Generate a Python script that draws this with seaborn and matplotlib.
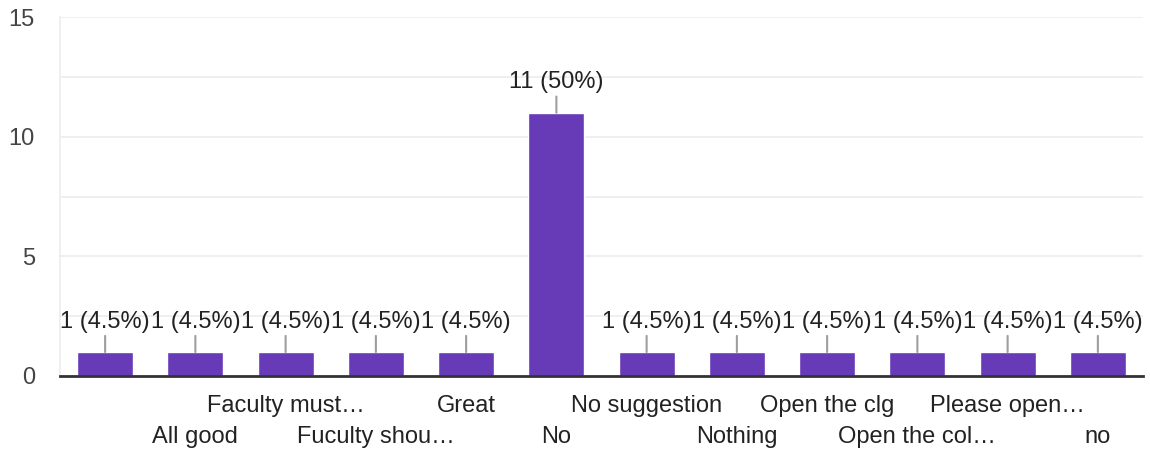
import matplotlib
matplotlib.use("Agg")
import matplotlib.pyplot as plt
import matplotlib.transforms as mtransforms
import seaborn as sns
import pandas as pd

categories = ["", "All good", "Faculty must…", "Fuculty shou…", "Great", "No",
              "No suggestion", "Nothing", "Open the clg", "Open the col…",
              "Please open…", "no"]
counts = [1, 1, 1, 1, 1, 11, 1, 1, 1, 1, 1, 1]
y_ticks = [0, 5, 10, 15]

sns.set_theme(style="white")
plt.rcParams['font.family'] = ['Liberation Sans', 'DejaVu Sans']

W, H, DPI = 11.5, 4.53, 100
FS = 17
fig = plt.figure(figsize=(W, H), dpi=DPI)
ax = fig.add_axes([60 / 1150, 1 - 376 / 453, (1143 - 60) / 1150, (376 - 17) / 453])

df = pd.DataFrame({"cat": [str(i) for i in range(len(categories))], "n": counts})
sns.barplot(data=df, x="cat", y="n", color="#673AB7", saturation=1, width=0.62,
            ax=ax, zorder=3)

ax.set_ylim(0, 15)
ax.set_xlim(-0.5, len(categories) - 0.5)
ax.set_yticks(y_ticks)
ax.set_yticks([2.5, 7.5, 12.5], minor=True)
ax.grid(axis="y", which="both", color="#ececec", linewidth=1.2, zorder=0)
ax.set_xlabel("")
ax.set_ylabel("")

for s in ["top", "right"]:
    ax.spines[s].set_visible(False)
ax.spines["left"].set_color("#ececec")
ax.spines["left"].set_linewidth(1.2)
ax.spines["bottom"].set_color("#333333")
ax.spines["bottom"].set_linewidth(2)
ax.spines["bottom"].set_zorder(4)

ax.tick_params(axis="y", which="both", length=0, pad=18, labelsize=FS, labelcolor="#444444")
ax.tick_params(axis="x", length=0, pad=13.5, labelsize=FS, labelcolor="#222222")
ax.set_xticks(range(len(categories)))
ax.set_xticklabels(categories)

offset = mtransforms.ScaledTranslation(0, -31 / DPI, fig.dpi_scale_trans)
for i, lab in enumerate(ax.get_xticklabels()):
    if i % 2 == 1:
        lab.set_transform(lab.get_transform() + offset)

total = sum(counts)
for i, v in enumerate(counts):
    pct = v / total * 100
    ax.annotate(f"{v} ({pct:.2g}%)", xy=(i, v), xytext=(0, 14), textcoords="offset points",
                ha="center", va="bottom", fontsize=FS, color="#222222",
                arrowprops=dict(arrowstyle="-", color="#9e9e9e", lw=1.5,
                                shrinkA=0, shrinkB=0), zorder=5)

fig.savefig("out.png", dpi=DPI)
